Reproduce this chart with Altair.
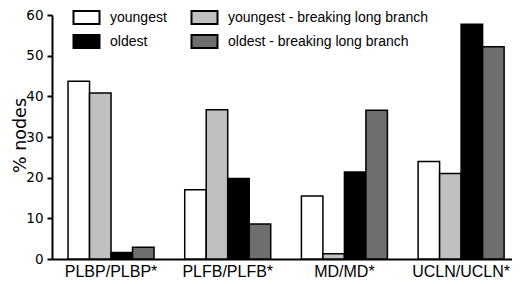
import altair as alt
import pandas as pd

categories = ["PLBP/PLBP*", "PLFB/PLFB*", "MD/MD*", "UCLN/UCLN*"]
series = ["youngest", "youngest - breaking long branch", "oldest", "oldest - breaking long branch"]
youngest = [43.7, 17.0, 15.5, 24.0]
youngest_blb = [40.8, 36.7, 1.3, 21.0]
oldest = [1.6, 19.8, 21.4, 57.7]
oldest_blb = [2.9, 8.6, 36.6, 52.2]
colors = ["#ffffff", "#c0c0c0", "#000000", "#6e6e6e"]
y_ticks = [0, 10, 20, 30, 40, 50, 60]

rows = []
for vals, s in zip([youngest, youngest_blb, oldest, oldest_blb], series):
    for c, v in zip(categories, vals):
        rows.append({"cat": c, "series": s, "value": v})
df = pd.DataFrame(rows)

# legend fills column by column: put youngest/oldest in first column
legend_order = [series[0], series[2], series[1], series[3]]
legend_colors = [colors[0], colors[2], colors[1], colors[3]]

chart = alt.Chart(df).mark_bar(stroke="black", strokeWidth=1.5).encode(
    x=alt.X("cat:N", sort=categories, title=None,
            scale=alt.Scale(paddingInner=0.263, paddingOuter=0.1025, align=0.67),
            axis=alt.Axis(labelAngle=0, ticks=False, domainColor="black", domainWidth=2,
                          labelFont="Liberation Sans", labelFontSize=16, labelColor="black",
                          labelPadding=4)),
    xOffset=alt.XOffset("series:N", sort=series,
                        scale=alt.Scale(paddingInner=0, paddingOuter=0)),
    y=alt.Y("value:Q", title="% nodes",
            scale=alt.Scale(domain=[0, 60], nice=False),
            axis=alt.Axis(values=y_ticks, grid=False, domainColor="black", domainWidth=2,
                          tickColor="black", tickWidth=2, tickSize=5,
                          labelFont="DejaVu Sans", labelFontSize=13.5, labelColor="black",
                          labelPadding=4,
                          titleFont="DejaVu Sans", titleFontSize=17.5, titleFontWeight="normal",
                          titleColor="black", titleX=-27, titleY=120,
                          titleBaseline="alphabetic", titleAngle=-90)),
    fill=alt.Fill("series:N",
                  scale=alt.Scale(domain=legend_order, range=legend_colors),
                  legend=alt.Legend(title=None, orient="none", legendX=27, legendY=-5,
                                    columns=2, columnPadding=20, rowPadding=3,
                                    symbolType="M-2,-1H2V1H-2Z", symbolSize=169,
                                    symbolStrokeColor="black", symbolStrokeWidth=2,
                                    symbolOpacity=1,
                                    labelFont="Liberation Sans", labelFontSize=14,
                                    labelColor="black", labelOffset=16, labelLimit=300,
                                    padding=0)),
).properties(
    width=460, height=244,
    autosize=alt.AutoSizeParams(type="none"),
    padding={"left": 44, "top": 7, "right": 0, "bottom": 22},
).configure_view(stroke=None)

chart.save("out.html", embed_options={"renderer": "svg", "actions": False})
